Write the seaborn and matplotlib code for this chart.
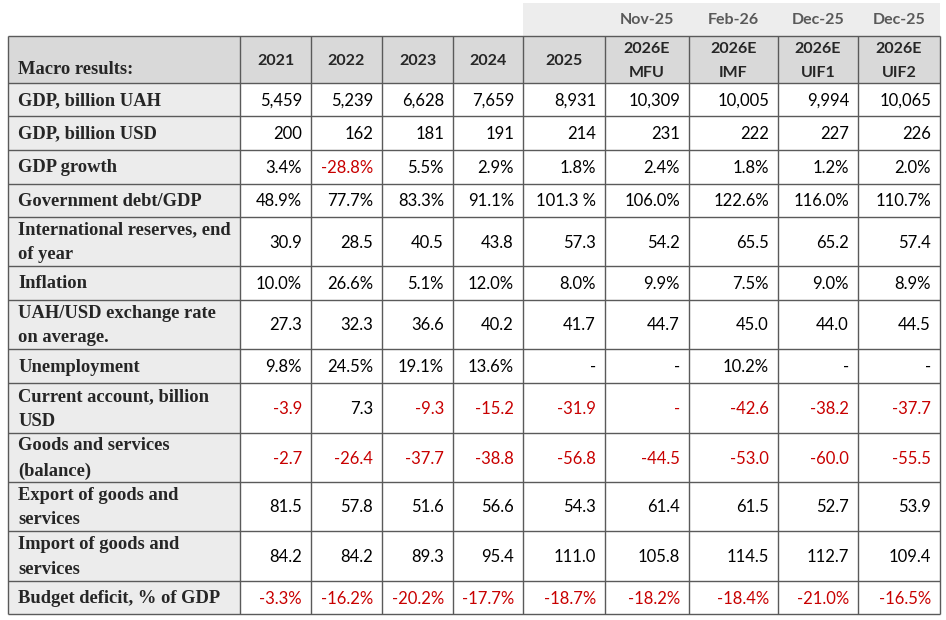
import numpy as np
import pandas as pd
import matplotlib
matplotlib.use("Agg")
import matplotlib.pyplot as plt
from matplotlib.colors import ListedColormap
import seaborn as sns

# table content
row_labels = [
    "GDP, billion UAH",
    "GDP, billion USD",
    "GDP growth",
    "Government debt/GDP",
    "International reserves, end\nof year",
    "Inflation",
    "UAH/USD exchange rate\non average.",
    "Unemployment",
    "Current account, billion\nUSD",
    "Goods and services\n(balance)",
    "Export of goods and\nservices",
    "Import of goods and\nservices",
    "Budget deficit, % of GDP",
]
col_labels = ["2021", "2022", "2023", "2024", "2025",
              "2026E\nMFU", "2026E\nIMF", "2026E\nUIF1", "2026E\nUIF2"]
forecast_dates = ["", "", "", "", "", "Nov-25", "Feb-26", "Dec-25", "Dec-25"]

v2021 = ["5,459", "200", "3.4%", "48.9%", "30.9", "10.0%", "27.3", "9.8%", "-3.9", "-2.7", "81.5", "84.2", "-3.3%"]
v2022 = ["5,239", "162", "-28.8%", "77.7%", "28.5", "26.6%", "32.3", "24.5%", "7.3", "-26.4", "57.8", "84.2", "-16.2%"]
v2023 = ["6,628", "181", "5.5%", "83.3%", "40.5", "5.1%", "36.6", "19.1%", "-9.3", "-37.7", "51.6", "89.3", "-20.2%"]
v2024 = ["7,659", "191", "2.9%", "91.1%", "43.8", "12.0%", "40.2", "13.6%", "-15.2", "-38.8", "56.6", "95.4", "-17.7%"]
v2025 = ["8,931", "214", "1.8%", "101.3 %", "57.3", "8.0%", "41.7", "-", "-31.9", "-56.8", "54.3", "111.0", "-18.7%"]
v_mfu = ["10,309", "231", "2.4%", "106.0%", "54.2", "9.9%", "44.7", "-", "-", "-44.5", "61.4", "105.8", "-18.2%"]
v_imf = ["10,005", "222", "1.8%", "122.6%", "65.5", "7.5%", "45.0", "10.2%", "-42.6", "-53.0", "61.5", "114.5", "-18.4%"]
v_uif1 = ["9,994", "227", "1.2%", "116.0%", "65.2", "9.0%", "44.0", "-", "-38.2", "-60.0", "52.7", "112.7", "-21.0%"]
v_uif2 = ["10,065", "226", "2.0%", "110.7%", "57.4", "8.9%", "44.5", "-", "-37.7", "-55.5", "53.9", "109.4", "-16.5%"]

df = pd.DataFrame(
    dict(zip(col_labels, [v2021, v2022, v2023, v2024, v2025, v_mfu, v_imf, v_uif1, v_uif2])),
    index=row_labels,
)

# layout in pixels
W, H = 946, 620
col_edges = [8, 240, 311, 382, 453, 523, 605, 689, 778, 858, 940]
row_edges = [36, 83, 116, 150, 184, 217, 266, 300, 349, 383, 433, 482, 531, 581, 614]
strip_top = 3

RED = "#c80000"
LINE = "#5a5a5a"
SERIF = ["Liberation Serif", "DejaVu Serif"]

sns.set_style("white")
plt.rcParams["font.family"] = ["Lato", "DejaVu Sans"]

# background cell types: 0 white, 1 label column, 2 header, 3 top strip
bg = np.zeros((H, W), dtype=int)
bg[strip_top:row_edges[0], col_edges[5]:col_edges[-1]] = 3
bg[row_edges[0]:row_edges[-1], col_edges[0]:col_edges[1]] = 1
bg[row_edges[0]:row_edges[1], col_edges[0]:col_edges[-1]] = 2

fig = plt.figure(figsize=(W / 100, H / 100), dpi=100)
ax = fig.add_axes([0, 0, 1, 1])
sns.heatmap(bg, cmap=ListedColormap(["#ffffff", "#ececec", "#d9d9d9", "#ededed"]),
            vmin=-0.5, vmax=3.5, cbar=False, xticklabels=False, yticklabels=False,
            ax=ax, rasterized=True)
ax.set_xlim(0, W)
ax.set_ylim(H, 0)
ax.set_axis_off()

# grid lines
ax.hlines(row_edges, col_edges[0], col_edges[-1], color=LINE, lw=1.0)
ax.vlines(col_edges, row_edges[0], row_edges[-1], color=LINE, lw=1.0)

# top strip dates
for j, d in enumerate(forecast_dates):
    if d:
        xc = (col_edges[j + 1] + col_edges[j + 2]) / 2
        ax.text(xc, 20, d, ha="center", va="center", fontsize=11.5,
                fontweight="bold", color="#595959")

# header
ax.text(col_edges[0] + 10, 70, "Macro results:", ha="left", va="center",
        fontsize=13.3, fontweight="bold", family=SERIF)
for j, c in enumerate(col_labels):
    xc = (col_edges[j + 1] + col_edges[j + 2]) / 2
    yc = (row_edges[0] + row_edges[1]) / 2 + 1.5
    ax.text(xc, yc, c, ha="center", va="center", fontsize=11.5,
            fontweight="bold", linespacing=1.9)

# body
for i, lab in enumerate(df.index):
    yc = (row_edges[i + 1] + row_edges[i + 2]) / 2 + 1
    ax.text(col_edges[0] + 10, yc, lab, ha="left", va="center", fontsize=13.3,
            fontweight="bold", family=SERIF, linespacing=1.6)
    row_vals = df.iloc[i].tolist()
    row_has_neg = any(v.startswith("-") and len(v) > 1 for v in row_vals)
    for j, v in enumerate(row_vals):
        neg = (v.startswith("-") and len(v) > 1) or (v == "-" and row_has_neg)
        ax.text(col_edges[j + 2] - 9, yc, v, ha="right", va="center",
                fontsize=12, color=RED if neg else "black")

fig.savefig("out.png", dpi=100)
